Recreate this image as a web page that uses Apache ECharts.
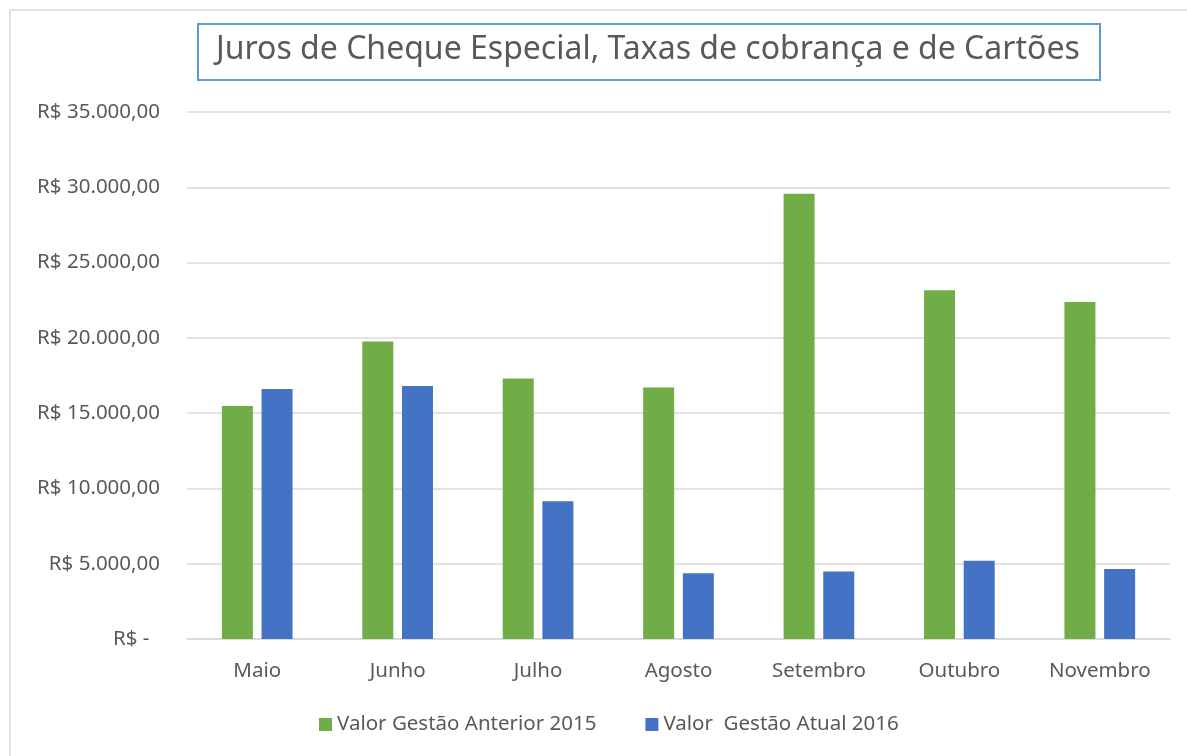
<!DOCTYPE html>
<html>
<head>
<meta charset="utf-8">
<script src="https://cdn.jsdelivr.net/npm/echarts@6/dist/echarts.min.js"></script>
<style>
  html, body { margin: 0; padding: 0; background: #fff; }
  #chart { width: 1187px; height: 756px; }
</style>
</head>
<body>
<div id="chart"></div>
<script>
// categorias e valores
const meses = ['Maio', 'Junho', 'Julho', 'Agosto', 'Setembro', 'Outubro', 'Novembro']
const gestaoAnterior2015 = [15470, 19760, 17300, 16710, 29570, 23170, 22380]
const gestaoAtual2016 = [16600, 16800, 9150, 4370, 4490, 5200, 4650]
const nomesSeries = ['Valor Gestão Anterior 2015', 'Valor  Gestão Atual 2016']

const FONT = 'Noto Sans'
const TEXT = '#595959'

function formatReal( v ) {
  if ( v === 0 ) {
    return 'R$ -  '
  }
  const s = Math.round( v ).toString().replace( /\B(?=(\d{3})+(?!\d))/g, '.' )
  return 'R$ ' + s + ',00'
}

const chart = echarts.init( document.getElementById( 'chart' ) )

chart.setOption( {
  backgroundColor : '#ffffff',
  animation : false,
  textStyle : { fontFamily : FONT },
  title : {
    text : 'Juros de Cheque Especial, Taxas de cobrança e de Cartões',
    left : 198,
    top : 24,
    padding : [10, 20, 14, 18],
    borderColor : '#5B9BD5',
    borderWidth : 2,
    textStyle : {
      fontFamily : FONT,
      fontWeight : 'normal',
      fontSize : 32,
      color : TEXT
    }
  },
  graphic : [
    {
      type : 'rect',
      shape : { x : 10, y : 10, width : 1200, height : 760 },
      style : { fill : 'none', stroke : '#D9D9D9', lineWidth : 1.5 },
      silent : true
    }
  ],
  legend : {
    left : 314,
    top : 709,
    icon : 'rect',
    itemWidth : 13,
    itemHeight : 13,
    itemGap : 49,
    textStyle : {
      fontFamily : FONT,
      fontSize : 20.5,
      color : TEXT
    },
    data : nomesSeries
  },
  grid : {
    left : 187,
    right : 17,
    top : 112,
    bottom : 117,
    containLabel : false
  },
  xAxis : {
    type : 'category',
    data : meses,
    axisLine : { show : true, lineStyle : { color : '#D9D9D9', width : 1.5 } },
    axisTick : { show : false },
    axisLabel : {
      margin : 22,
      fontFamily : FONT,
      fontSize : 20.5,
      color : TEXT
    }
  },
  yAxis : {
    type : 'value',
    min : 0,
    max : 35000,
    interval : 5000,
    axisLine : { show : false },
    axisTick : { show : false },
    axisLabel : {
      margin : 27,
      fontFamily : FONT,
      fontSize : 20.5,
      color : TEXT,
      formatter : formatReal
    },
    splitLine : {
      lineStyle : { color : '#D9D9D9', width : 1.5 }
    }
  },
  series : [
    {
      name : nomesSeries[0],
      type : 'bar',
      data : gestaoAnterior2015,
      barWidth : 31,
      barGap : '28%',
      itemStyle : { color : '#70AD47' }
    },
    {
      name : nomesSeries[1],
      type : 'bar',
      data : gestaoAtual2016,
      barWidth : 31,
      itemStyle : { color : '#4472C4' }
    }
  ]
} )
</script>
</body>
</html>
